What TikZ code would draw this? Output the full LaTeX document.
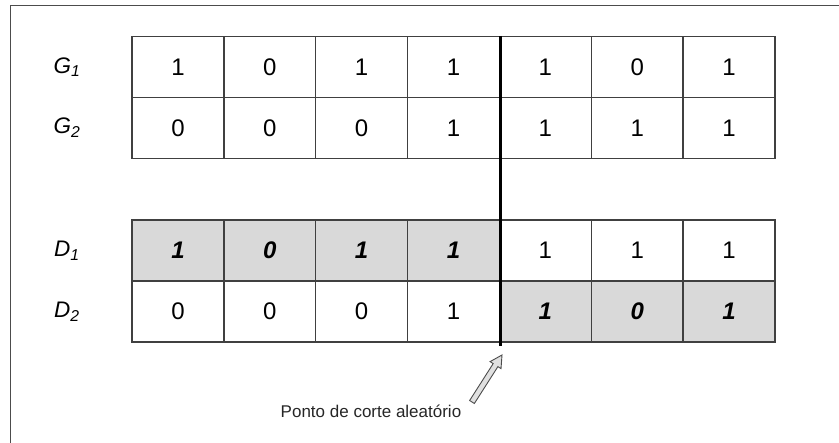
\documentclass[tikz,border=0pt]{standalone}
\usepackage{fontspec}
\setmainfont{Liberation Sans}
\usetikzlibrary{calc}
\begin{document}
\begin{tikzpicture}[x=1pt,y=-1pt,
  cell/.style={draw=black!75, line width=1.4pt, minimum width=91.86pt,
    minimum height=61pt, inner sep=0pt, font=\fontsize{24}{28}\selectfont},
  pick/.style={cell, fill=black!15, font=\fontsize{24}{28}\selectfont\bfseries\itshape},
  rowlabel/.style={font=\fontsize{22.5}{26}\selectfont\itshape},
  cutline/.style={line width=3pt, black},
  pointer/.style={draw=black!70, fill=black!12, line width=0.9pt, line join=miter},
  caption/.style={font=\fontsize{17}{20}\selectfont, text=black!85}]
\useasboundingbox (0,0) rectangle (839,443);
% partial frame around the figure
\draw[black!70, line width=1.2pt] (10.5,443) -- (10.5,5.5) -- (839,5.5);

% parent chromosomes
\foreach \v [count=\i] in {1,0,1,1,1,0,1}
  \node[cell] (g1-\i) at ({132+91.86*(\i-0.5)},67) {\v};
\foreach \v [count=\i] in {0,0,0,1,1,1,1}
  \node[cell] (g2-\i) at ({132+91.86*(\i-0.5)},128) {\v};

% offspring chromosomes
\foreach \v [count=\i] in {1,0,1,1}
  \node[pick] (d1-\i) at ({132+91.86*(\i-0.5)},250.5) {\v};
\foreach \v [count=\i from 5] in {1,1,1}
  \node[cell] (d1-\i) at ({132+91.86*(\i-0.5)},250.5) {\v};
\foreach \v [count=\i] in {0,0,0,1}
  \node[cell] (d2-\i) at ({132+91.86*(\i-0.5)},311.5) {\v};
\foreach \v [count=\i from 5] in {1,0,1}
  \node[pick] (d2-\i) at ({132+91.86*(\i-0.5)},311.5) {\v};

% row labels
\node[rowlabel] (lg1) at (67,67) {G\textsubscript{1}};
\node[rowlabel] (lg2) at (67,128) {G\textsubscript{2}};
\node[rowlabel] (ld1) at (67,250.5) {D\textsubscript{1}};
\node[rowlabel] (ld2) at (67,311.5) {D\textsubscript{2}};

% crossover point
\coordinate (cuttop) at (g1-4.north east);
\coordinate (cutbot) at ($(d2-4.south east)+(0,3)$);
\draw[cutline] (cuttop) -- (cutbot);

% caption and block arrow pointing at the cut
\node[caption] (cap) at (371,411) {Ponto de corte aleatório};
\coordinate (tail) at (472,402);
\coordinate (tip) at (502,355);
\coordinate (base) at ($(tip)!12pt!(tail)$);
\draw[pointer]
  ($(tail)!2.8pt!90:(tip)$) -- ($(base)!2.8pt!-90:(tail)$)
  -- ($(base)!6.5pt!-90:(tail)$) -- (tip)
  -- ($(base)!6.5pt!90:(tail)$) -- ($(base)!2.8pt!90:(tail)$)
  -- ($(tail)!2.8pt!-90:(tip)$) -- cycle;
\end{tikzpicture}
\end{document}
